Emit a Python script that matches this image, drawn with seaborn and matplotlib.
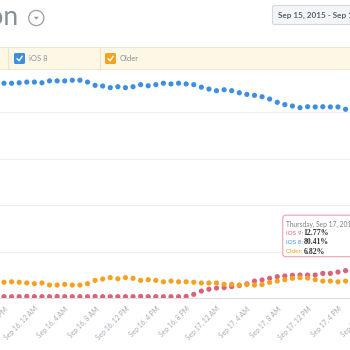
import matplotlib
matplotlib.use("Agg")
import matplotlib.pyplot as plt
import numpy as np
import pandas as pd
import seaborn as sns
from matplotlib.patches import FancyBboxPatch, Rectangle, Circle, Polygon

# ---------------- data (hourly, starting Sep 15, 8 PM) ----------------
hours = list(range(46))
ios8 = [92.5, 92.5, 92.7, 93.0, 93.0, 92.7, 93.5, 93.5, 93.5, 93.8, 93.8, 93.0, 91.6, 91.3, 90.6, 91.0,
        90.6, 91.0, 91.9, 91.4, 91.9, 92.5, 92.2, 92.5, 92.2, 91.9, 90.8, 90.0, 89.3, 89.7, 89.3,
        88.4, 87.7, 87.3, 86.7, 85.7, 84.3, 83.3, 82.7, 82.0, 82.4, 82.3, 82.4, 82.3, 82.3, 81.3]
older = [6.9, 7.1, 6.9, 6.6, 6.3, 6.6, 5.7, 5.7, 6.0, 5.7, 5.7, 6.3, 7.7, 8.3, 8.9, 8.4,
         8.9, 8.6, 7.7, 8.0, 7.7, 7.1, 7.4, 7.1, 7.1, 6.9, 6.6, 6.6, 6.6, 6.0, 6.0,
         5.7, 5.9, 5.7, 5.9, 6.8, 7.4, 8.0, 8.6, 8.9, 8.7, 8.0, 7.4, 7.4, 7.1, 7.4]
ios9 = [0.7, 0.7, 0.7, 0.8, 0.7, 0.7, 0.7, 0.8, 0.7, 0.7, 0.7, 0.7, 0.8, 0.7, 0.7, 0.7,
        0.7, 0.7, 0.8, 0.7, 0.7, 0.7, 0.7, 0.7, 0.8, 1.7, 3.1, 3.9, 4.4, 4.6, 5.0,
        5.5, 6.2, 7.4, 7.9, 8.6, 9.3, 9.6, 9.9, 10.0, 10.0, 10.0, 10.7, 10.7, 11.3, 11.9]
tick_hours = [0, 4, 8, 12, 16, 20, 24, 28, 32, 36, 40, 44, 48]
tick_labels = ["Sep 15, 8 PM", "Sep 16, 12 AM", "Sep 16, 4 AM", "Sep 16, 8 AM", "Sep 16, 12 PM",
               "Sep 16, 4 PM", "Sep 16, 8 PM", "Sep 17, 12 AM", "Sep 17, 4 AM", "Sep 17, 8 AM",
               "Sep 17, 12 PM", "Sep 17, 4 PM", "Sep 17, 8 PM"]
series_names = ["iOS 9", "iOS 8", "Older"]
tooltip_title = "Thursday, Sep 17, 2015, 8:00 PM"
tooltip_values = ["12.77%", "80.41%", "6.82%"]

RED, BLUE, ORANGE = "#d9637b", "#3d8fe0", "#f4a124"
palette = {"iOS 9": RED, "iOS 8": BLUE, "Older": ORANGE}

df = pd.concat([
    pd.DataFrame({"hour": hours, "share": ios9, "os": "iOS 9"}),
    pd.DataFrame({"hour": hours, "share": ios8, "os": "iOS 8"}),
    pd.DataFrame({"hour": hours, "share": older, "os": "Older"}),
], ignore_index=True)

sns.set_theme(style="white")
plt.rcParams["font.family"] = ["Lato", "DejaVu Sans"]

W = H = 350.0
fig = plt.figure(figsize=(3.5, 3.5), dpi=100)
fig.patch.set_facecolor("white")

# main axes: x in px = 4 + 7.59*hour ; y: 0% at 298.3 px, 100% at 65.8 px
pph = 7.59
x0px = 4.0
ax_w_px = 390.0
y0px, y100px = 298.3, 65.8
ax = fig.add_axes([0, (H - y0px) / H, ax_w_px / W, (y0px - y100px) / H])
ax.set_xlim(-x0px / pph, (ax_w_px - x0px) / pph)
ax.set_ylim(0, 100)

sns.scatterplot(data=df, x="hour", y="share", hue="os", palette=palette,
                hue_order=series_names, s=14, linewidth=0, legend=False, ax=ax, zorder=3)

ax.set_yticks([0, 20, 40, 60, 80])
ax.set_yticklabels([])
ax.grid(axis="y", color="#eeeeee", linewidth=0.8)
ax.grid(axis="x", visible=False)
ax.set_xticks(tick_hours)
ax.set_xticklabels(tick_labels, rotation=45, ha="right", rotation_mode="anchor",
                   fontsize=4.9, color="#a6abb3")
ax.tick_params(axis="x", length=0, pad=5)
ax.tick_params(axis="y", length=0)
ax.set_xlabel("")
ax.set_ylabel("")
for sp in ["top", "left", "right"]:
    ax.spines[sp].set_visible(False)
ax.spines["bottom"].set_color("#dedede")
ax.spines["bottom"].set_linewidth(0.8)
ax.set_facecolor("none")

# overlay in pixel coordinates
ov = fig.add_axes([0, 0, 1, 1], zorder=5)
ov.set_xlim(0, W)
ov.set_ylim(H, 0)
ov.axis("off")
ov.patch.set_alpha(0)

# title (cut off at the left)
ov.text(19, 25, "Adoption", ha="right", va="baseline", fontsize=19,
        color="#8a8e95", fontweight="normal")
ov.add_patch(Circle((36.3, 18), 7.6, facecolor="none", edgecolor="#9a9ea5", linewidth=0.9))
ov.add_patch(Polygon([[33.8, 16.8], [38.8, 16.8], [36.3, 19.6]], closed=True,
                     facecolor="#8f949b", edgecolor="none"))

# date range box
ov.add_patch(FancyBboxPatch((272.5, 5.5), 90, 19, boxstyle="round,pad=0,rounding_size=2",
                            facecolor="#f3f5f8", edgecolor="#d3d8df", linewidth=0.8))
ov.text(278.5, 15.2, "Sep 15, 2015 - Sep 17, 2015", ha="left", va="center",
        fontsize=5.9, fontweight="bold", color="#58626f")

# legend band
ov.add_patch(Rectangle((-2, 47), W + 4, 22, facecolor="#fdf7e5", edgecolor="#f1e8cb", linewidth=0.7))
for xd in [8.3, 100]:
    ov.plot([xd, xd], [47, 69], color="#f0e4c2", linewidth=0.8)
for (cx, col, name) in [(14, BLUE, "iOS 8"), (105, ORANGE, "Older")]:
    ov.add_patch(FancyBboxPatch((cx, 53), 11, 11, boxstyle="round,pad=0,rounding_size=1.5",
                                facecolor=col, edgecolor="none"))
    ov.plot([cx + 3, cx + 5, cx + 8.3], [58.6, 60.8, 56.2], color="white", linewidth=1.0,
            solid_capstyle="round")
    ov.text(cx + 15, 58.8, name, ha="left", va="center", fontsize=5.5, color="#8b9097")

# tooltip
ov.add_patch(FancyBboxPatch((282.7, 215.2), 75, 41.5, boxstyle="round,pad=0,rounding_size=3",
                            facecolor="white", edgecolor="#eaa9b5", linewidth=0.9, alpha=0.95))
ov.text(285.5, 224, tooltip_title, ha="left", va="center", fontsize=4.8, color="#7d8187")
for i, (name, val) in enumerate(zip(series_names, tooltip_values)):
    yy = 233.3 + i * 9.2
    ov.text(285.5, yy, name + ":", ha="left", va="center", fontsize=4.6, color=palette[name])
    ov.text(303.5, yy, val, ha="left", va="center", fontsize=5.6, fontweight="bold",
            color="#333333", family=["Liberation Serif", "DejaVu Serif"])

fig.savefig("out.png", dpi=100)
